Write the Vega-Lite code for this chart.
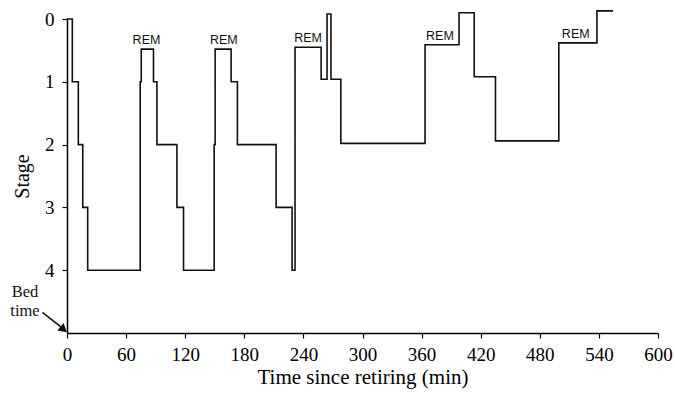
{
  "$schema": "https://vega.github.io/schema/vega-lite/v6.json",
  "width": 591,
  "height": 314,
  "autosize": {"type": "none"},
  "padding": {"left": 67, "top": 19, "right": 17, "bottom": 60},
  "background": "white",
  "config": {
    "view": {"stroke": null},
    "axis": {
      "grid": false,
      "domainColor": "#000",
      "domainWidth": 1.5,
      "tickColor": "#000",
      "tickWidth": 1.2,
      "labelColor": "#000",
      "titleColor": "#000",
      "labelFont": "Liberation Serif",
      "titleFont": "Liberation Serif",
      "titleFontWeight": "normal",
      "labelFlush": false,
      "labelOverlap": false
    }
  },
  "datasets": {
    "hyp": [
      {"t": 0, "stage": 0},
      {"t": 5.4, "stage": 1},
      {"t": 11.5, "stage": 2},
      {"t": 16, "stage": 3},
      {"t": 21, "stage": 4},
      {"t": 74.3, "stage": 1},
      {"t": 75.4, "stage": 0.48},
      {"t": 87.8, "stage": 1},
      {"t": 91.3, "stage": 2},
      {"t": 111.6, "stage": 3},
      {"t": 118.3, "stage": 4},
      {"t": 149.4, "stage": 2},
      {"t": 150.4, "stage": 0.48},
      {"t": 166.6, "stage": 1},
      {"t": 173, "stage": 2},
      {"t": 212.3, "stage": 3},
      {"t": 228.5, "stage": 4},
      {"t": 231.5, "stage": 0.45},
      {"t": 258, "stage": 0.96},
      {"t": 264, "stage": -0.08},
      {"t": 268, "stage": 0.96},
      {"t": 278, "stage": 1.98},
      {"t": 363.5, "stage": 0.41},
      {"t": 398, "stage": -0.1},
      {"t": 413.4, "stage": 0.92},
      {"t": 435, "stage": 1.94},
      {"t": 499.3, "stage": 0.38},
      {"t": 538, "stage": -0.13},
      {"t": 554.4, "stage": -0.13}
    ],
    "rem": [
      {"t": 80.7, "stage": 0.48, "label": "REM"},
      {"t": 159.2, "stage": 0.48, "label": "REM"},
      {"t": 244.7, "stage": 0.45, "label": "REM"},
      {"t": 378.6, "stage": 0.41, "label": "REM"},
      {"t": 516.5, "stage": 0.38, "label": "REM"}
    ],
    "bed": [
      {"t": 0, "stage": 5, "label": ["Bed", "time"]}
    ],
    "arrow": [
      {"t": -25, "stage": 4.67, "t2": -5.5, "stage2": 4.91}
    ],
    "head": [
      {"t": -3.4, "stage": 4.945}
    ]
  },
  "layer": [
    {
      "data": {"name": "hyp"},
      "mark": {"type": "line", "interpolate": "step-after", "color": "#111", "strokeWidth": 1.6},
      "encoding": {
        "x": {
          "field": "t",
          "type": "quantitative",
          "scale": {"domain": [0, 600], "nice": false, "zero": false},
          "axis": {
            "values": [0, 30, 60, 90, 120, 150, 180, 210, 240, 270, 300, 330, 360, 390, 420, 450, 480, 510, 540, 570, 600],
            "labelExpr": "datum.value % 60 === 0 ? datum.label : ''",
            "tickSize": 5,
            "labelPadding": 7,
            "labelFontSize": 19,
            "title": "Time since retiring (min)",
            "titleFontSize": 21,
            "titlePadding": 2
          }
        },
        "y": {
          "field": "stage",
          "type": "quantitative",
          "scale": {"domain": [0, 5], "reverse": true, "nice": false, "zero": false},
          "axis": {
            "values": [0, 1, 2, 3, 4],
            "format": "d",
            "tickSize": 5,
            "labelPadding": 8,
            "labelFontSize": 19,
            "title": "Stage",
            "titleFontSize": 20,
            "titlePadding": 12
          }
        }
      }
    },
    {
      "data": {"name": "rem"},
      "mark": {"type": "text", "font": "Liberation Sans", "fontSize": 12.5, "dy": -5, "baseline": "alphabetic", "align": "center", "color": "#111"},
      "encoding": {
        "x": {"field": "t", "type": "quantitative"},
        "y": {"field": "stage", "type": "quantitative"},
        "text": {"field": "label"}
      }
    },
    {
      "data": {"name": "bed"},
      "mark": {"type": "text", "font": "Liberation Serif", "fontSize": 16.5, "lineHeight": 19, "dx": -42, "dy": -36, "baseline": "alphabetic", "align": "center", "color": "#111"},
      "encoding": {
        "x": {"field": "t", "type": "quantitative"},
        "y": {"field": "stage", "type": "quantitative"},
        "text": {"field": "label"}
      }
    },
    {
      "data": {"name": "arrow"},
      "mark": {"type": "rule", "color": "#111", "strokeWidth": 1.6},
      "encoding": {
        "x": {"field": "t", "type": "quantitative"},
        "y": {"field": "stage", "type": "quantitative"},
        "x2": {"field": "t2"},
        "y2": {"field": "stage2"}
      }
    },
    {
      "data": {"name": "head"},
      "mark": {"type": "point", "shape": "triangle-up", "filled": true, "color": "#111", "opacity": 1, "size": 95, "angle": 130},
      "encoding": {
        "x": {"field": "t", "type": "quantitative"},
        "y": {"field": "stage", "type": "quantitative"}
      }
    }
  ]
}
